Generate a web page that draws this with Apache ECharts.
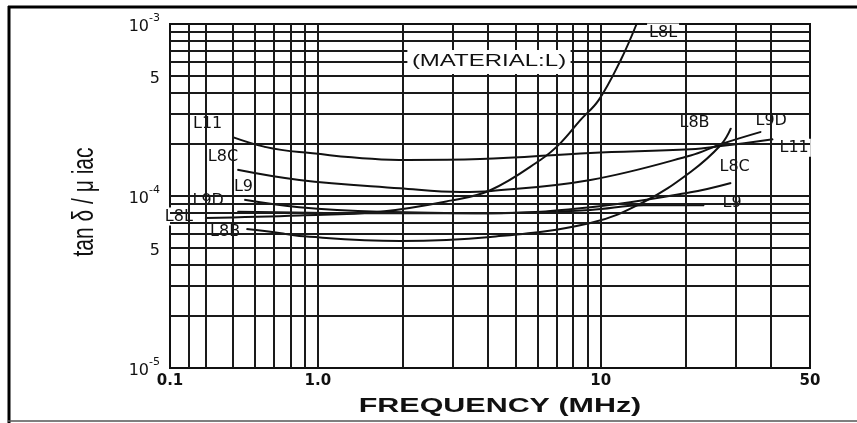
<!DOCTYPE html>
<html>
<head>
<meta charset="utf-8">
<script src="https://cdn.jsdelivr.net/npm/echarts@6/dist/echarts.min.js"></script>
<style>
html, body { margin: 0; padding: 0; background: #fff; }
#main { width: 857px; height: 423px; }
</style>
</head>
<body>
<div id="main"></div>
<script>
// tan δ / μiac against frequency (MHz)
const curveL11 = [[0.50, 2.20e-4], [0.65, 1.93e-4], [0.86, 1.80e-4], [2.07, 1.62e-4], [3.75, 1.64e-4], [9.2, 1.78e-4], [20.8, 1.87e-4], [26.6, 1.95e-4], [40.7, 2.14e-4]];
const curveL8C = [[0.52, 1.42e-4], [0.86, 1.24e-4], [1.95, 1.11e-4], [3.2, 1.055e-4], [4.1, 1.07e-4], [9.2, 1.24e-4], [20.8, 1.72e-4], [26.6, 2.0e-4], [36.9, 2.36e-4]];
const curveL9D = [[0.55, 9.5e-5], [0.86, 8.6e-5], [1.66, 8.1e-5], [4.1, 7.95e-5], [9.2, 8.6e-5], [20.8, 1.05e-4], [28.9, 1.19e-4]];
const curveL9 = [[0.52, 8.1e-5], [1.5, 7.95e-5], [4.1, 7.95e-5], [9.2, 8.3e-5], [14.2, 8.85e-5], [23.2, 8.85e-5]];
const curveL8L = [[0.40, 7.45e-5], [0.86, 7.7e-5], [1.66, 8.1e-5], [2.94, 9.4e-5], [4.07, 1.08e-4], [6.12, 1.62e-4], [7.21, 2.03e-4], [8.49, 2.77e-4], [9.84, 3.61e-4], [11.78, 6.18e-4], [13.4, 1.0e-3]];
const curveL8B = [[0.56, 6.43e-5], [0.73, 6.1e-5], [0.86, 5.85e-5], [1.95, 5.48e-5], [4.07, 5.78e-5], [9.2, 6.97e-5], [14.2, 9.23e-5], [20.8, 1.38e-4], [26.6, 1.98e-4], [28.9, 2.48e-4]];

const curves = [curveL11, curveL8C, curveL9D, curveL9, curveL8L, curveL8B];
const leftNames = ['L11', 'L8C', 'L9D', 'L9', 'L8L', 'L8B'];
const rightNames = ['L11', 'L9D', 'L8C', 'L9', 'L8L', 'L8B'];

// axis ticks as printed on the sheet
const xTickValues = [0.3, 1, 10, 55];
const xTickText = ['0.1', '1.0', '10', '50'];
const yTickValues = [1e-5, 5e-5, 1e-4, 5e-4, 1e-3];
const yTickText = ['{b|10}{s|-5}', '{b|5}', '{b|10}{s|-4}', '{b|5}', '{b|10}{s|-3}'];

// grid lines of the log paper
const xGrid = [0.35, 0.4, 0.5, 0.6, 0.7, 0.8, 0.9, 1, 2, 3, 4, 5, 6, 7, 8, 9, 10, 20, 30, 40];
const yGrid = [2e-5, 3e-5, 4e-5, 5e-5, 6e-5, 7e-5, 8e-5, 9e-5, 1e-4, 2e-4, 3e-4, 4e-4, 5e-4, 6e-4, 7e-4, 8e-4, 9e-4];

// label placement (pixels from the curve ends)
const startOffset = [[-8, -13], [3, -12], [-18, 2], [18, -24], [-10, -1], [-4, 3]];
const endOffset = [[5, 9], [-7, -11], [-13, -16], [17, -2], [11, 9], [-53, -5]];

const font = 'DejaVu Sans';
const ink = '#111';

function pickText(values, texts, v) {
    let best = 0;
    values.forEach(function (t, i) {
        if (Math.abs(Math.log(t / v)) < Math.abs(Math.log(values[best] / v))) best = i;
    });
    return texts[best];
}

window.addEventListener('load', function () {
    let chart = echarts.init(document.getElementById('main'));

    let labelBase = {
        show: true,
        fontFamily: font,
        fontSize: 16,
        color: ink,
        backgroundColor: '#fff',
        padding: [1, 2],
        verticalAlign: 'middle'
    };

    let series = curves.map(function (pts, k) {
        let data = pts.map(function (p, i) {
            let item = { value: p };
            if (i === 0) {
                item.label = Object.assign({}, labelBase, {
                    formatter: leftNames[k],
                    align: 'right',
                    position: startOffset[k]
                });
            } else if (i === pts.length - 1) {
                item.label = Object.assign({}, labelBase, {
                    formatter: rightNames[k],
                    align: 'left',
                    position: endOffset[k]
                });
            }
            return item;
        });
        return {
            name: leftNames[k],
            type: 'line',
            smooth: 0.4,
            symbol: 'circle',
            symbolSize: 1,
            showSymbol: true,
            itemStyle: { color: ink },
            lineStyle: { color: ink, width: 2 },
            label: { show: false },
            z: 3,
            data: data
        };
    });

    let gridLine = { color: '#1a1a1a', width: 2, type: 'solid' };

    // paper grid drawn as mark lines on hidden helper series
    series.push({
        name: 'paperX',
        type: 'line',
        data: [[1, 1e-4]],
        showSymbol: false,
        lineStyle: { opacity: 0 },
        z: 1,
        silent: true,
        markLine: {
            silent: true,
            symbol: 'none',
            label: { show: false },
            lineStyle: gridLine,
            animation: false,
            data: xGrid.map(function (v) { return { xAxis: v }; })
        }
    });
    series.push({
        name: 'paperY',
        type: 'line',
        data: [[1, 1e-4]],
        showSymbol: false,
        lineStyle: { opacity: 0 },
        z: 1,
        silent: true,
        markLine: {
            silent: true,
            symbol: 'none',
            label: { show: false },
            lineStyle: gridLine,
            animation: false,
            data: yGrid.map(function (v) {
                return [{ coord: [xTickValues[0], v] }, { coord: [xTickValues[3], v] }];
            })
        }
    });

    let option = {
        animation: false,
        grid: {
            left: 170, right: 47, top: 24, bottom: 55,
            show: true,
            borderColor: ink,
            borderWidth: 2,
            backgroundColor: '#fff',
            containLabel: false,
            outerBoundsMode: 'none'
        },
        xAxis: {
            type: 'log',
            logBase: 10,
            min: 0.3,
            max: 55,
            axisLine: { show: false },
            axisTick: { show: false },
            splitLine: { show: false },
            axisLabel: {
                customValues: xTickValues,
                showMinLabel: true,
                showMaxLabel: true,
                margin: 6,
                fontFamily: font,
                fontWeight: 'bold',
                fontSize: 15,
                color: ink,
                formatter: function (v) { return pickText(xTickValues, xTickText, v); }
            }
        },
        yAxis: {
            type: 'log',
            logBase: 10,
            min: 1e-5,
            max: 1e-3,
            axisLine: { show: false },
            axisTick: { show: false },
            splitLine: { show: false },
            axisLabel: {
                customValues: yTickValues,
                margin: 10,
                color: ink,
                formatter: function (v) { return pickText(yTickValues, yTickText, v); },
                rich: {
                    b: { fontFamily: font, fontSize: 16, color: ink, lineHeight: 22, verticalAlign: 'bottom' },
                    s: { fontFamily: font, fontSize: 11, color: ink, lineHeight: 22, verticalAlign: 'top' }
                }
            }
        },
        graphic: [
            { type: 'line', z: 100, shape: { x1: 9, y1: 6, x2: 9, y2: 423 }, style: { stroke: '#000', lineWidth: 3 } },
            { type: 'line', z: 100, shape: { x1: 8, y1: 7, x2: 857, y2: 7 }, style: { stroke: '#000', lineWidth: 3 } },
            { type: 'line', z: 100, shape: { x1: 8, y1: 421, x2: 857, y2: 421 }, style: { stroke: '#555', lineWidth: 1.5 } },
            {
                type: 'text', z: 100, x: 489, y: 62, scaleX: 1.5,
                style: {
                    text: '(MATERIAL:L)', fill: ink,
                    font: '16px "Liberation Sans"',
                    align: 'center', verticalAlign: 'middle',
                    backgroundColor: '#fff', padding: [4, 3]
                }
            },
            {
                type: 'text', z: 100, x: 500, y: 406, scaleX: 1.45,
                style: {
                    text: 'FREQUENCY (MHz)', fill: ink,
                    font: 'bold 21px "Liberation Sans"',
                    align: 'center', verticalAlign: 'middle'
                }
            },
            {
                type: 'text', z: 100, x: 85, y: 202, rotation: Math.PI / 2, scaleY: 1.4,
                style: {
                    text: 'tan δ / μ iac', fill: ink,
                    font: '21px "Liberation Sans"',
                    align: 'center', verticalAlign: 'middle'
                }
            }
        ],
        series: series
    };
    chart.setOption(option);
}, false);
</script>
</body>
</html>
